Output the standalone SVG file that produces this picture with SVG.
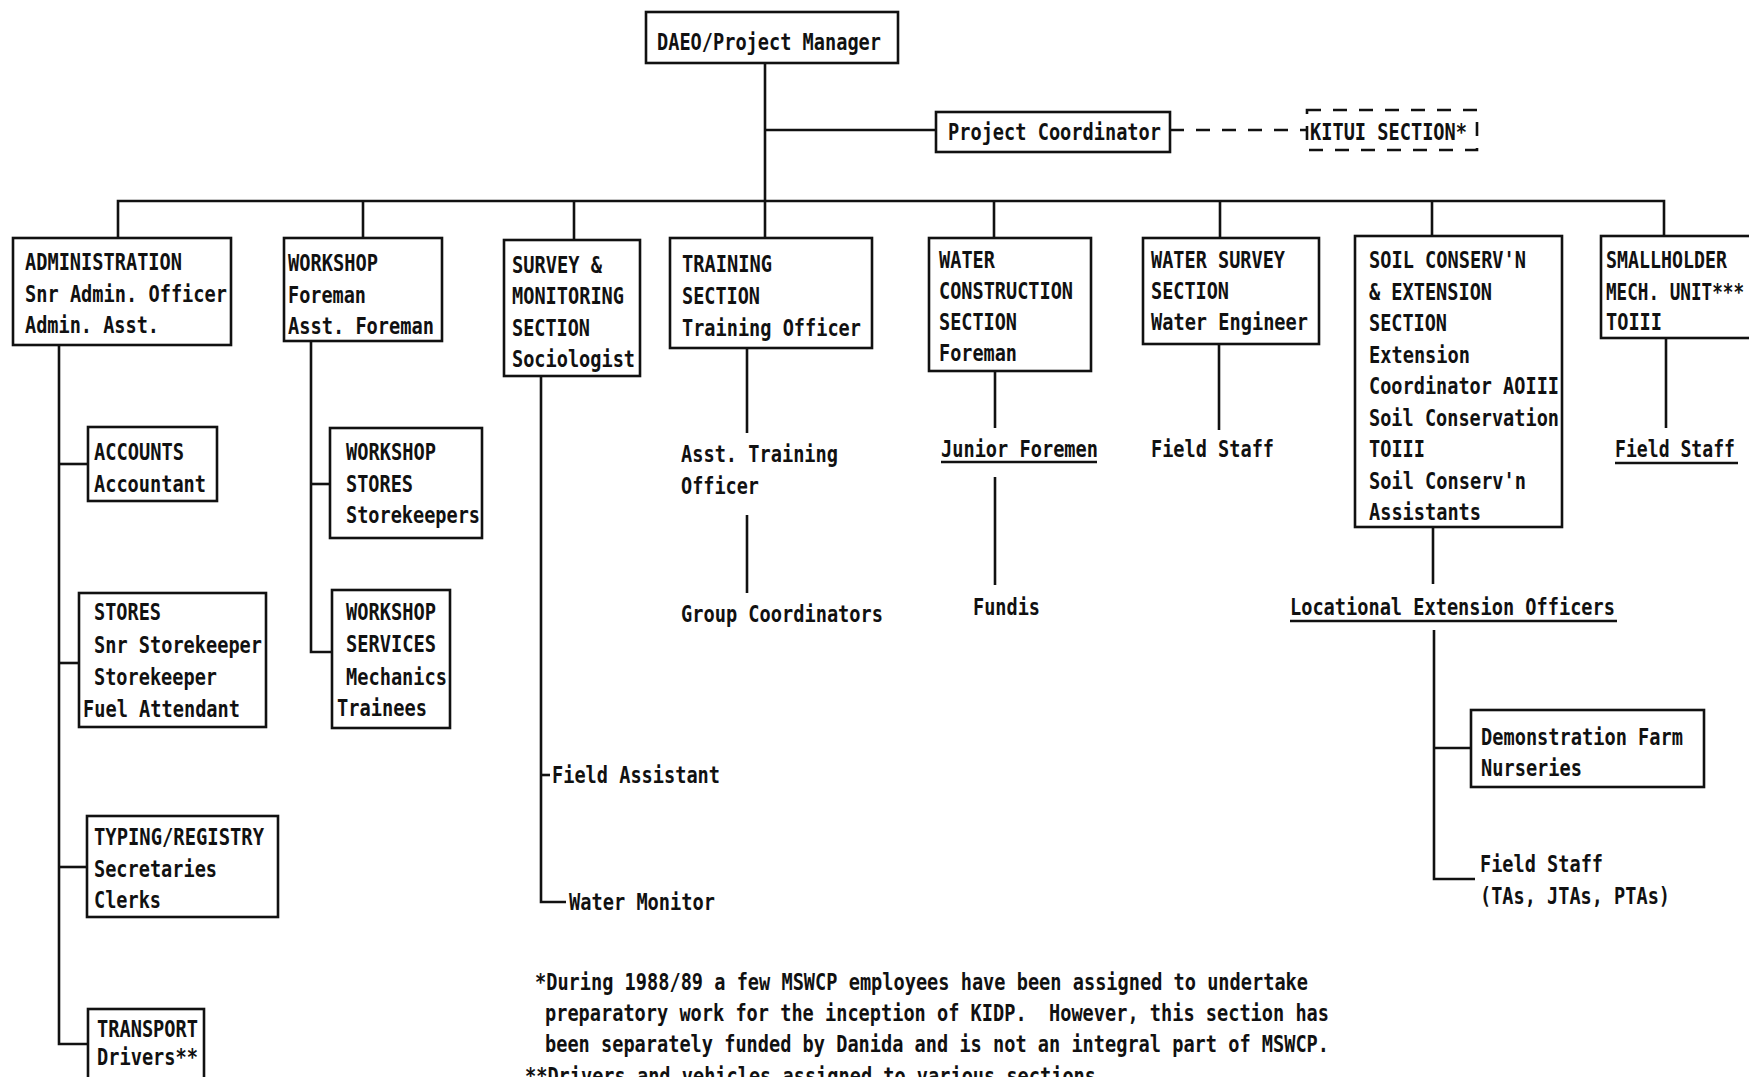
<svg xmlns="http://www.w3.org/2000/svg" width="1749" height="1077" viewBox="0 0 1749 1077">
<style>
  text { font-family: "DejaVu Sans Mono", "Liberation Mono", monospace; font-size: 23px; font-weight: bold; fill: #111; }
  .box { fill: #fff; stroke: #111; stroke-width: 2.6; }
  .ln { fill: none; stroke: #111; stroke-width: 2.6; }
  .dash { stroke-dasharray: 14 12; }
</style>
<rect width="1749" height="1077" fill="#fff"/>

<!-- connectors -->
<g id="connectors" class="ln">
  <path d="M765 63 V238"/>
  <path d="M765 130 H936"/>
  <path class="dash" d="M1170 130 H1307"/>
  <path d="M118 238 V201 H1664 V236"/>
  <path d="M363 201 V238"/>
  <path d="M574 201 V240"/>
  <path d="M994 201 V238"/>
  <path d="M1220 201 V238"/>
  <path d="M1432 201 V236"/>
  <!-- administration branches -->
  <path d="M59 345 V1044 H88"/>
  <path d="M59 464 H88"/>
  <path d="M59 663 H79"/>
  <path d="M59 867 H87"/>
  <!-- workshop branches -->
  <path d="M311 341 V652 H332"/>
  <path d="M311 484 H330"/>
  <!-- survey branches -->
  <path d="M541 376 V902 H566"/>
  <path d="M541 775 H550"/>
  <!-- training -->
  <path d="M747 348 V433"/>
  <path d="M747 515 V593"/>
  <!-- water construction -->
  <path d="M995 371 V428"/>
  <path d="M995 477 V585"/>
  <!-- water survey -->
  <path d="M1219 344 V430"/>
  <!-- soil conservation -->
  <path d="M1433 527 V584"/>
  <path d="M1434 630 V879 H1475"/>
  <path d="M1434 748 H1471"/>
  <!-- smallholder -->
  <path d="M1666 338 V428"/>
</g>

<g id="daeo">
  <rect class="box" x="646" y="12" width="252" height="51"/>
  <text x="657" y="50" textLength="224" lengthAdjust="spacingAndGlyphs">DAEO/Project Manager</text>
</g>

<g id="project-coordinator">
  <rect class="box" x="936" y="112" width="234" height="40"/>
  <text x="948" y="140" textLength="213" lengthAdjust="spacingAndGlyphs">Project Coordinator</text>
</g>

<g id="kitui-section">
  <rect class="box dash" x="1307" y="110" width="170" height="40"/>
  <text x="1310" y="140" textLength="157" lengthAdjust="spacingAndGlyphs">KITUI SECTION*</text>
</g>

<g id="administration">
  <rect class="box" x="13" y="238" width="218" height="107"/>
  <text x="25" y="270" textLength="157" lengthAdjust="spacingAndGlyphs">ADMINISTRATION</text>
  <text x="25" y="302" textLength="202" lengthAdjust="spacingAndGlyphs">Snr Admin. Officer</text>
  <text x="25" y="333" textLength="134" lengthAdjust="spacingAndGlyphs">Admin. Asst.</text>
</g>

<g id="workshop">
  <rect class="box" x="284" y="238" width="158" height="103"/>
  <text x="288" y="271" textLength="90" lengthAdjust="spacingAndGlyphs">WORKSHOP</text>
  <text x="288" y="303" textLength="78" lengthAdjust="spacingAndGlyphs">Foreman</text>
  <text x="288" y="334" textLength="146" lengthAdjust="spacingAndGlyphs">Asst. Foreman</text>
</g>

<g id="survey-monitoring">
  <rect class="box" x="504" y="240" width="136" height="136"/>
  <text x="512" y="273" textLength="90" lengthAdjust="spacingAndGlyphs">SURVEY &amp;</text>
  <text x="512" y="304" textLength="112" lengthAdjust="spacingAndGlyphs">MONITORING</text>
  <text x="512" y="336" textLength="78" lengthAdjust="spacingAndGlyphs">SECTION</text>
  <text x="512" y="367" textLength="123" lengthAdjust="spacingAndGlyphs">Sociologist</text>
</g>

<g id="training">
  <rect class="box" x="670" y="238" width="202" height="110"/>
  <text x="682" y="272" textLength="90" lengthAdjust="spacingAndGlyphs">TRAINING</text>
  <text x="682" y="304" textLength="78" lengthAdjust="spacingAndGlyphs">SECTION</text>
  <text x="682" y="336" textLength="179" lengthAdjust="spacingAndGlyphs">Training Officer</text>
</g>

<g id="water-construction">
  <rect class="box" x="929" y="238" width="162" height="133"/>
  <text x="939" y="268" textLength="56" lengthAdjust="spacingAndGlyphs">WATER</text>
  <text x="939" y="299" textLength="134" lengthAdjust="spacingAndGlyphs">CONSTRUCTION</text>
  <text x="939" y="330" textLength="78" lengthAdjust="spacingAndGlyphs">SECTION</text>
  <text x="939" y="361" textLength="78" lengthAdjust="spacingAndGlyphs">Foreman</text>
</g>

<g id="water-survey">
  <rect class="box" x="1143" y="238" width="176" height="106"/>
  <text x="1151" y="268" textLength="134" lengthAdjust="spacingAndGlyphs">WATER SURVEY</text>
  <text x="1151" y="299" textLength="78" lengthAdjust="spacingAndGlyphs">SECTION</text>
  <text x="1151" y="330" textLength="157" lengthAdjust="spacingAndGlyphs">Water Engineer</text>
</g>

<g id="soil-conservation">
  <rect class="box" x="1355" y="236" width="207" height="291"/>
  <text x="1369" y="268" textLength="157" lengthAdjust="spacingAndGlyphs">SOIL CONSERV'N</text>
  <text x="1369" y="299.5" textLength="123" lengthAdjust="spacingAndGlyphs">&amp; EXTENSION</text>
  <text x="1369" y="331" textLength="78" lengthAdjust="spacingAndGlyphs">SECTION</text>
  <text x="1369" y="362.5" textLength="101" lengthAdjust="spacingAndGlyphs">Extension</text>
  <text x="1369" y="394" textLength="190" lengthAdjust="spacingAndGlyphs">Coordinator AOIII</text>
  <text x="1369" y="425.5" textLength="190" lengthAdjust="spacingAndGlyphs">Soil Conservation</text>
  <text x="1369" y="457" textLength="56" lengthAdjust="spacingAndGlyphs">TOIII</text>
  <text x="1369" y="488.5" textLength="157" lengthAdjust="spacingAndGlyphs">Soil Conserv'n</text>
  <text x="1369" y="520" textLength="112" lengthAdjust="spacingAndGlyphs">Assistants</text>
</g>

<g id="smallholder">
  <rect class="box" x="1601" y="236" width="170" height="102"/>
  <text x="1606" y="268" textLength="121" lengthAdjust="spacingAndGlyphs">SMALLHOLDER</text>
  <text x="1606" y="300" textLength="138" lengthAdjust="spacingAndGlyphs">MECH. UNIT***</text>
  <text x="1606" y="330" textLength="56" lengthAdjust="spacingAndGlyphs">TOIII</text>
</g>

<g id="accounts">
  <rect class="box" x="88" y="427" width="129" height="74"/>
  <text x="94" y="460" textLength="90" lengthAdjust="spacingAndGlyphs">ACCOUNTS</text>
  <text x="94" y="492" textLength="112" lengthAdjust="spacingAndGlyphs">Accountant</text>
</g>

<g id="stores">
  <rect class="box" x="79" y="593" width="187" height="134"/>
  <text x="94" y="620" textLength="67" lengthAdjust="spacingAndGlyphs">STORES</text>
  <text x="94" y="653" textLength="168" lengthAdjust="spacingAndGlyphs">Snr Storekeeper</text>
  <text x="94" y="685" textLength="123" lengthAdjust="spacingAndGlyphs">Storekeeper</text>
  <text x="83" y="717" textLength="157" lengthAdjust="spacingAndGlyphs">Fuel Attendant</text>
</g>

<g id="typing-registry">
  <rect class="box" x="87" y="816" width="191" height="101"/>
  <text x="94" y="845" textLength="170" lengthAdjust="spacingAndGlyphs">TYPING/REGISTRY</text>
  <text x="94" y="877" textLength="123" lengthAdjust="spacingAndGlyphs">Secretaries</text>
  <text x="94" y="908" textLength="67" lengthAdjust="spacingAndGlyphs">Clerks</text>
</g>

<g id="transport">
  <rect class="box" x="88" y="1009" width="116" height="90"/>
  <text x="97" y="1037" textLength="101" lengthAdjust="spacingAndGlyphs">TRANSPORT</text>
  <text x="97" y="1065" textLength="101" lengthAdjust="spacingAndGlyphs">Drivers**</text>
</g>

<g id="workshop-stores">
  <rect class="box" x="330" y="428" width="152" height="110"/>
  <text x="346" y="460" textLength="90" lengthAdjust="spacingAndGlyphs">WORKSHOP</text>
  <text x="346" y="492" textLength="67" lengthAdjust="spacingAndGlyphs">STORES</text>
  <text x="346" y="523" textLength="134" lengthAdjust="spacingAndGlyphs">Storekeepers</text>
</g>

<g id="workshop-services">
  <rect class="box" x="332" y="590" width="118" height="138"/>
  <text x="346" y="620" textLength="90" lengthAdjust="spacingAndGlyphs">WORKSHOP</text>
  <text x="346" y="652" textLength="90" lengthAdjust="spacingAndGlyphs">SERVICES</text>
  <text x="346" y="685" textLength="101" lengthAdjust="spacingAndGlyphs">Mechanics</text>
  <text x="337" y="716" textLength="90" lengthAdjust="spacingAndGlyphs">Trainees</text>
</g>

<g id="field-assistant">
  <text x="552" y="783" textLength="168" lengthAdjust="spacingAndGlyphs">Field Assistant</text>
</g>

<g id="water-monitor">
  <text x="569" y="910" textLength="146" lengthAdjust="spacingAndGlyphs">Water Monitor</text>
</g>

<g id="asst-training-officer">
  <text x="681" y="462" textLength="157" lengthAdjust="spacingAndGlyphs">Asst. Training</text>
  <text x="681" y="494" textLength="78" lengthAdjust="spacingAndGlyphs">Officer</text>
</g>

<g id="group-coordinators">
  <text x="681" y="622" textLength="202" lengthAdjust="spacingAndGlyphs">Group Coordinators</text>
</g>

<g id="junior-foremen">
  <text x="941" y="457" textLength="157" lengthAdjust="spacingAndGlyphs">Junior Foremen</text>
  <path class="ln" d="M941 462 H1097"/>
</g>

<g id="fundis">
  <text x="973" y="615" textLength="67" lengthAdjust="spacingAndGlyphs">Fundis</text>
</g>

<g id="water-field-staff">
  <text x="1151" y="457" textLength="123" lengthAdjust="spacingAndGlyphs">Field Staff</text>
</g>

<g id="mech-field-staff">
  <text x="1615" y="457" textLength="120" lengthAdjust="spacingAndGlyphs">Field Staff</text>
  <path class="ln" d="M1615 463 H1738"/>
</g>

<g id="locational-extension-officers">
  <text x="1290" y="615" textLength="325" lengthAdjust="spacingAndGlyphs">Locational Extension Officers</text>
  <path class="ln" d="M1290 621 H1617"/>
</g>

<g id="demonstration-farm">
  <rect class="box" x="1471" y="710" width="233" height="77"/>
  <text x="1481" y="745" textLength="202" lengthAdjust="spacingAndGlyphs">Demonstration Farm</text>
  <text x="1481" y="776" textLength="101" lengthAdjust="spacingAndGlyphs">Nurseries</text>
</g>

<g id="extension-field-staff">
  <text x="1480" y="872" textLength="123" lengthAdjust="spacingAndGlyphs">Field Staff</text>
  <text x="1480" y="904" textLength="190" lengthAdjust="spacingAndGlyphs">(TAs, JTAs, PTAs)</text>
</g>

<g id="footnotes">
  <text x="535" y="990" textLength="773" lengthAdjust="spacingAndGlyphs">*During 1988/89 a few MSWCP employees have been assigned to undertake</text>
  <text x="545" y="1021" textLength="784" lengthAdjust="spacingAndGlyphs" xml:space="preserve">preparatory work for the inception of KIDP.  However, this section has</text>
  <text x="545" y="1052" textLength="784" lengthAdjust="spacingAndGlyphs">been separately funded by Danida and is not an integral part of MSWCP.</text>
  <text x="525" y="1084" textLength="571" lengthAdjust="spacingAndGlyphs">**Drivers and vehicles assigned to various sections</text>
</g>
</svg>
